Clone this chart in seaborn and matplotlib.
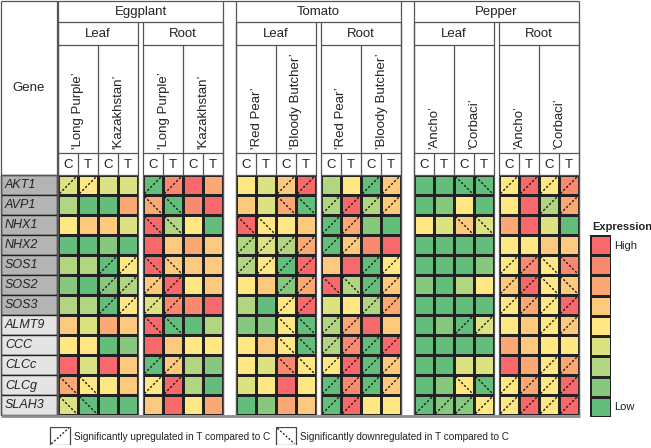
import numpy as np
import matplotlib
matplotlib.use("Agg")
import matplotlib.pyplot as plt
from matplotlib.colors import ListedColormap
from matplotlib.patches import Rectangle
from matplotlib import font_manager
import seaborn as sns

# ---------------- data ----------------
genes = ["AKT1", "AVP1", "NHX1", "NHX2", "SOS1", "SOS2", "SOS3",
         "ALMT9", "CCC", "CLCc", "CLCg", "SLAH3"]
crops = ["Eggplant", "Tomato", "Pepper"]
tissues = ["Leaf", "Root"]
cultivars = {"Eggplant": ["'Long Purple’", "'Kazakhstan’"],
             "Tomato": ["'Red Pear’", "'Bloody Butcher’"],
             "Pepper": ["'Ancho’", "'Corbaci’"]}
treatments = ["C", "T"]

# expression level 1 (low) .. 9 (high); columns: Leaf cv1 C,T cv2 C,T | Root cv1 C,T cv2 C,T
eggplant_levels = [
    [4, 5, 4, 4, 1, 8, 9, 7],
    [3, 1, 1, 7, 7, 1, 8, 9],
    [5, 6, 6, 4, 9, 3, 5, 1],
    [1, 1, 2, 1, 9, 6, 7, 6],
    [3, 3, 1, 5, 9, 6, 6, 6],
    [2, 1, 2, 3, 6, 9, 5, 6],
    [3, 3, 1, 5, 4, 8, 8, 9],
    [6, 4, 7, 6, 9, 1, 1, 3],
    [5, 5, 1, 2, 9, 6, 5, 5],
    [9, 4, 9, 6, 1, 6, 3, 2],
    [7, 5, 5, 6, 5, 9, 3, 1],
    [4, 1, 1, 1, 6, 9, 5, 7],
]
tomato_levels = [
    [5, 4, 6, 9, 3, 5, 1, 6],
    [6, 4, 7, 1, 3, 9, 3, 6],
    [9, 5, 5, 6, 1, 7, 2, 1],
    [3, 4, 3, 7, 1, 6, 8, 9],
    [3, 5, 1, 9, 6, 9, 1, 5],
    [5, 6, 2, 7, 9, 3, 1, 6],
    [3, 1, 5, 9, 4, 5, 3, 7],
    [2, 2, 5, 1, 3, 7, 9, 6],
    [5, 6, 5, 1, 3, 8, 1, 9],
    [5, 4, 8, 5, 5, 9, 1, 6],
    [4, 5, 9, 5, 1, 8, 1, 6],
    [1, 2, 7, 6, 1, 9, 5, 5],
]
pepper_levels = [
    [1, 1, 1, 1, 5, 9, 5, 8],
    [1, 2, 5, 1, 5, 9, 3, 7],
    [5, 4, 6, 4, 7, 9, 4, 1],
    [1, 1, 1, 1, 5, 5, 6, 6],
    [1, 1, 1, 2, 5, 8, 5, 8],
    [2, 1, 3, 5, 6, 9, 5, 6],
    [1, 1, 1, 1, 5, 7, 5, 9],
    [1, 2, 1, 4, 5, 6, 5, 6],
    [1, 1, 1, 1, 7, 6, 5, 5],
    [1, 1, 4, 4, 9, 7, 5, 7],
    [1, 2, 5, 1, 5, 7, 5, 9],
    [1, 2, 2, 5, 5, 9, 5, 9],
]
# significance: u = up in T vs C, d = down in T vs C, . = none
eggplant_sig = ["uu..uu..", "....dd..", "....dd..", "........", "..uudd..", "..uuuu..",
                "..uuuu..", "....dd..", "........", "....uu..", "dd..uu..", "dd......"]
tomato_sig = ["..uu..uu", "..dduuuu", "dd..uu..", "uuuuuu..", "uuuu..uu", "..uudduu",
              "..uu..uu", "..dduu..", "..dduuuu", "..dduuuu", "....uuuu", "....uu.."]
pepper_sig = ["..dduuuu", "......uu", "..dd....", "........", "....uudd", "....uudd",
              "....uuuu", "..uu..uu", "........", "......uu", "..dduuuu", "uuuuuuuu"]

legend_levels = [9, 8, 7, 6, 5, 4, 3, 2, 1]

levels = {"Eggplant": np.array(eggplant_levels), "Tomato": np.array(tomato_levels),
          "Pepper": np.array(pepper_levels)}
sigs = {"Eggplant": eggplant_sig, "Tomato": tomato_sig, "Pepper": pepper_sig}

# ---------------- style ----------------
sns.set_theme(style="white")
plt.rcParams["font.family"] = ["Liberation Sans", "DejaVu Sans"]
names = {f.name for f in font_manager.fontManager.ttflist}
narrow = "Liberation Sans Narrow" in names

palette = ["#63BE7B", "#86C87D", "#B1D580", "#DCE182", "#FFE884",
           "#FDC97C", "#FBA875", "#F98A70", "#F8696B"]
cmap = ListedColormap(palette)
edge = "#222222"
hdr = "#555555"
W, H = 651, 448

fig = plt.figure(figsize=(W / 100, H / 100), dpi=100)


def px_rect(x, y, w, h):
    return [x / W, 1 - (y + h) / H, w / W, h / H]


crop_left = [58, 236, 414]
tissue_off = [0, 85]
cw, rh = 20, 20
heat_top = 175
n = len(genes)
heat_bot = heat_top + n * rh


def mark(ax, x0, y0, kind, lw=1.0, sx=1.0):
    a, b = 0.07, 0.93
    if kind == "u":
        ax.plot([x0 + a * sx, x0 + b * sx], [y0 + b, y0 + a], color="#1a1a1a",
                lw=lw, ls=(0, (1.6, 1.4)), solid_capstyle="butt")
    elif kind == "d":
        ax.plot([x0 + a * sx, x0 + b * sx], [y0 + a, y0 + b], color="#1a1a1a",
                lw=lw, ls=(0, (1.6, 1.4)), solid_capstyle="butt")


for ci, crop in enumerate(crops):
    for ti, tis in enumerate(tissues):
        x = crop_left[ci] + tissue_off[ti]
        ax = fig.add_axes(px_rect(x, heat_top, 4 * cw, n * rh))
        block = levels[crop][:, ti * 4:(ti + 1) * 4]
        sns.heatmap(block, ax=ax, cmap=cmap, vmin=0.5, vmax=9.5, cbar=False,
                    linewidths=1.0, linecolor=edge, xticklabels=False, yticklabels=False)
        for r in range(n):
            for c in range(4):
                mark(ax, c, r, sigs[crop][r][ti * 4 + c])
        ax.set_xlim(0, 4)
        ax.set_ylim(n, 0)
        ax.set_axis_off()

# colour legend
lax = fig.add_axes(px_rect(590, 235, 21, 182))
sns.heatmap(np.array(legend_levels).reshape(-1, 1), ax=lax, cmap=cmap, vmin=0.5, vmax=9.5,
            cbar=False, linewidths=1.0, linecolor=edge, xticklabels=False, yticklabels=False)
lax.set_axis_off()

# overlay
ov = fig.add_axes([0, 0, 1, 1], zorder=5)
ov.set_xlim(0, W)
ov.set_ylim(H, 0)
ov.patch.set_alpha(0)
ov.set_axis_off()


def line(x0, y0, x1, y1, c=hdr, lw=0.9):
    ov.plot([x0, x1], [y0, y1], color=c, lw=lw, solid_capstyle="butt")


fs = 9.5
# outer frame and gene column
line(1, 1, 579, 1)
line(1, 1, 1, heat_bot)
line(57, 1, 57, heat_bot)
line(1, heat_top, 57, heat_top)
ov.text(29, 88, "Gene", ha="center", va="center", fontsize=fs, color="#222")
for r, g in enumerate(genes):
    fc = "#B4B4B4" if r < 7 else "#E4E4E4"
    ov.add_patch(Rectangle((1, heat_top + r * rh), 56, rh, fc=fc, ec=edge, lw=1.0))
    ov.text(5, heat_top + r * rh + rh / 2 + 0.5, g, ha="left", va="center",
            fontsize=9, style="italic", color="#222")

for ci, crop in enumerate(crops):
    L = crop_left[ci]
    R = L + tissue_off[1] + 4 * cw
    line(L, 1, L, heat_bot)
    line(R, 1, R, heat_bot)
    line(L, 22, R, 22)
    ov.text((L + R) / 2, 12, crop, ha="center", va="center", fontsize=fs, color="#222")
    for ti, tis in enumerate(tissues):
        x = L + tissue_off[ti]
        line(x, 22, x, heat_bot)
        line(x + 80, 22, x + 80, heat_bot)
        line(x, 45, x + 80, 45)
        line(x, 153, x + 80, 153)
        line(x, heat_top, x + 80, heat_top)
        ov.text(x + 40, 34, tis, ha="center", va="center", fontsize=fs, color="#222")
        line(x + 40, 45, x + 40, heat_top)
        for k, cv in enumerate(cultivars[crop]):
            ov.text(x + 20 + 40 * k + 0.5, 149, cv, rotation=90, ha="center", va="bottom",
                    fontsize=fs, color="#222")
            line(x + 40 * k + 20, 153, x + 40 * k + 20, heat_top)
            for j, t in enumerate(treatments):
                ov.text(x + 40 * k + 20 * j + 10, 164.5, t, ha="center", va="center",
                        fontsize=fs, color="#222")

line(1, heat_bot + 1.2, 580, heat_bot + 1.2, c="#8c8c8c", lw=2.0)

# colour legend text
ov.text(592, 227, "Expression", ha="left", va="center", fontsize=8, fontweight="bold",
        color="#222")
ov.text(614, 246, "High", ha="left", va="center", fontsize=8, color="#222")
ov.text(614, 407, "Low", ha="left", va="center", fontsize=8, color="#222")

# significance legend
leg_fam = ["Liberation Sans Narrow", "Liberation Sans"] if narrow else ["Liberation Sans"]
leg_fs = 8.5 if narrow else 7.2
bh = 18
sax = fig.add_axes(px_rect(0, 427, W, bh))
sax.set_xlim(0, W / bh)
sax.set_ylim(1, 0)
sax.set_axis_off()
sax.patch.set_alpha(0)
bw = 20 / bh
for bx, kind, txt in [(50, "u", "Significantly upregulated in T compared to C"),
                      (276, "d", "Significantly downregulated in T compared to C")]:
    x0 = bx / bh
    sax.add_patch(Rectangle((x0, 0.02), bw, 0.96, fc="white", ec="#444", lw=0.9))
    mark(sax, x0, 0, kind, lw=0.9, sx=bw)
    sax.text(x0 + bw + 0.2, 0.55, txt, ha="left", va="center", fontsize=leg_fs,
             family=leg_fam, color="#222")

fig.savefig("out.png", dpi=100)
